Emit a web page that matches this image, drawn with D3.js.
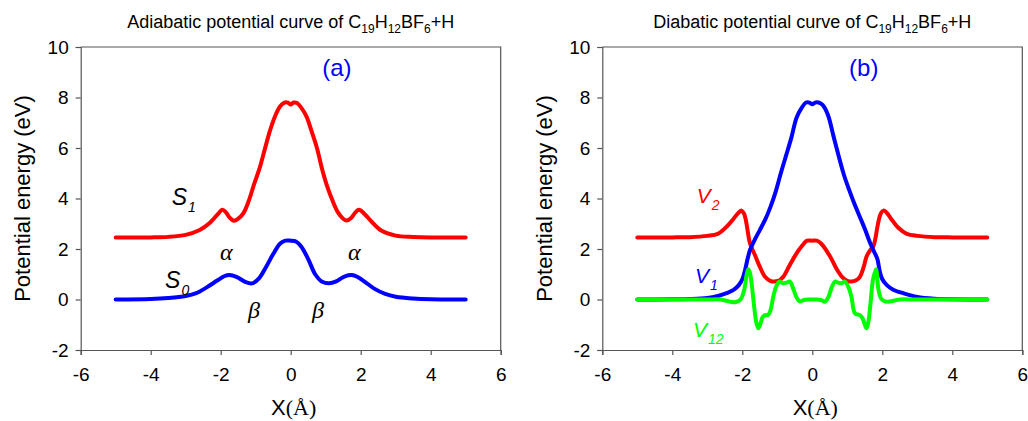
<!DOCTYPE html>
<html>
<head>
<meta charset="utf-8">
<script src="https://cdn.jsdelivr.net/npm/d3@7"></script>
<style>
body { margin: 0; background: #fff; }
svg { display: block; }
</style>
</head>
<body>
<svg width="1028" height="421"></svg>
<script>
// tick values shared by both panels
var xTicks = [-6, -4, -2, 0, 2, 4, 6];
var yTicks = [-2, 0, 2, 4, 6, 8, 10];

// panel (a): adiabatic curves
var s1X = [-5, -4, -3.5, -3, -2.6, -2.3, -2.1, -1.95, -1.85, -1.75, -1.62, -1.5, -1.35, -1.2, -1.05, -0.9, -0.75, -0.6, -0.45, -0.3, -0.18, -0.08, 0, 0.08, 0.18, 0.3, 0.45, 0.6, 0.75, 0.9, 1.05, 1.2, 1.35, 1.5, 1.6, 1.72, 1.85, 1.95, 2.1, 2.3, 2.6, 3, 3.5, 4, 5];
var s1Y = [2.46, 2.46, 2.48, 2.56, 2.75, 3.05, 3.35, 3.55, 3.45, 3.25, 3.12, 3.2, 3.42, 3.9, 4.55, 5.15, 5.9, 6.65, 7.25, 7.65, 7.8, 7.8, 7.72, 7.8, 7.78, 7.6, 7.25, 6.65, 6.0, 5.15, 4.45, 3.9, 3.45, 3.2, 3.13, 3.22, 3.45, 3.55, 3.4, 3.1, 2.72, 2.53, 2.48, 2.46, 2.46];

var s0X = [-5, -4, -3.5, -3, -2.7, -2.4, -2.1, -1.9, -1.75, -1.55, -1.3, -1.1, -0.9, -0.7, -0.5, -0.3, -0.15, 0, 0.15, 0.3, 0.5, 0.7, 0.9, 1.1, 1.3, 1.55, 1.75, 1.9, 2.1, 2.4, 2.7, 3, 3.5, 4, 5];
var s0Y = [0, 0.02, 0.06, 0.14, 0.25, 0.48, 0.75, 0.92, 0.97, 0.9, 0.7, 0.64, 0.85, 1.3, 1.8, 2.22, 2.33, 2.33, 2.3, 2.1, 1.6, 1.0, 0.7, 0.64, 0.72, 0.92, 0.97, 0.9, 0.72, 0.42, 0.22, 0.11, 0.04, 0.01, 0];

// panel (b): diabatic curves
var v1X = [-5, -4, -3.5, -3, -2.7, -2.45, -2.25, -2.1, -2.0, -1.92, -1.85, -1.78, -1.65, -1.5, -1.35, -1.2, -1.05, -0.9, -0.75, -0.6, -0.45, -0.3, -0.18, -0.08, 0, 0.08, 0.18, 0.3, 0.45, 0.6, 0.75, 0.9, 1.05, 1.2, 1.35, 1.5, 1.65, 1.78, 1.86, 1.93, 2.0, 2.13, 2.3, 2.6, 3, 3.5, 4, 5];
var v1Y = [0, 0.01, 0.02, 0.06, 0.14, 0.25, 0.38, 0.57, 0.8, 1.17, 1.6, 1.96, 2.35, 2.75, 3.15, 3.65, 4.25, 5.0, 5.7, 6.4, 7.2, 7.6, 7.8, 7.8, 7.73, 7.8, 7.8, 7.7, 7.3, 6.5, 5.7, 4.95, 4.35, 3.8, 3.3, 2.8, 2.25, 1.85, 1.6, 1.1, 0.8, 0.57, 0.4, 0.25, 0.1, 0.03, 0.01, 0];

var v2X = [-5, -4, -3.5, -3, -2.7, -2.45, -2.25, -2.1, -2.02, -1.95, -1.9, -1.85, -1.78, -1.64, -1.5, -1.35, -1.2, -1.1, -0.95, -0.83, -0.65, -0.45, -0.28, -0.15, 0, 0.13, 0.25, 0.4, 0.55, 0.7, 0.85, 1.0, 1.12, 1.25, 1.36, 1.47, 1.55, 1.65, 1.74, 1.8, 1.85, 1.9, 1.96, 2.03, 2.12, 2.25, 2.45, 2.7, 3, 3.5, 4, 5];
var v2Y = [2.46, 2.46, 2.47, 2.52, 2.6, 2.88, 3.2, 3.45, 3.52, 3.4, 3.15, 2.75, 2.22, 1.76, 1.3, 0.9, 0.74, 0.71, 0.75, 0.9, 1.35, 1.83, 2.15, 2.33, 2.33, 2.33, 2.22, 1.95, 1.6, 1.2, 0.9, 0.74, 0.71, 0.76, 0.9, 1.3, 1.7, 1.95, 2.1, 2.4, 2.8, 3.15, 3.42, 3.52, 3.45, 3.2, 2.85, 2.6, 2.52, 2.47, 2.46, 2.46];

var v12X = [-5, -3, -2.64, -2.45, -2.3, -2.18, -2.05, -1.95, -1.88, -1.83, -1.78, -1.73, -1.66, -1.6, -1.54, -1.48, -1.42, -1.35, -1.27, -1.2, -1.1, -1.02, -0.93, -0.85, -0.75, -0.64, -0.55, -0.45, -0.35, -0.25, -0.1, 0.1, 0.25, 0.36, 0.46, 0.56, 0.65, 0.75, 0.85, 0.93, 1.03, 1.12, 1.22, 1.36, 1.44, 1.5, 1.55, 1.6, 1.66, 1.73, 1.82, 1.89, 1.96, 2.05, 2.17, 2.35, 2.5, 3, 5];
var v12Y = [0, 0, 0, -0.05, -0.1, -0.1, 0.0, 0.35, 0.95, 1.2, 1.05, 0.6, -0.3, -0.9, -1.14, -0.95, -0.7, -0.62, -0.62, -0.45, 0.2, 0.55, 0.71, 0.65, 0.66, 0.71, 0.45, 0.08, -0.08, -0.02, 0, 0, -0.02, -0.09, 0.1, 0.5, 0.71, 0.66, 0.65, 0.71, 0.5, 0.1, -0.55, -0.62, -0.75, -1.0, -1.14, -0.9, -0.2, 0.75, 1.2, 0.4, 0.05, -0.06, -0.09, -0.04, 0, 0, 0];

var svg = d3.select("svg");
var sans = "Arial, 'Liberation Sans', sans-serif";
var serif = "'Times New Roman', 'Liberation Serif', serif";

function drawPanel(left, title, tag, series, labels) {
    var x = d3.scaleLinear().domain([-6, 6]).range([left, left + 420]);
    var y = d3.scaleLinear().domain([-2, 10]).range([350, 47]);

    var g = svg.append("g");

    // frame (top + right)
    g.append("path")
        .attr("d", "M" + x(-6) + "," + y(10) + "H" + x(6) + "V" + y(-2))
        .attr("fill", "none")
        .attr("stroke", "#555")
        .attr("stroke-width", 1.2);

    // plain hyphen for negatives, like the original
    var fmt = function(d) { return String(d); };
    var xa = g.append("g")
        .attr("transform", "translate(0," + y(-2) + ")")
        .call(d3.axisBottom(x).tickValues(xTicks).tickSize(5).tickPadding(13).tickFormat(fmt));
    var ya = g.append("g")
        .attr("transform", "translate(" + x(-6) + ",0)")
        .call(d3.axisLeft(y).tickValues(yTicks).tickSize(5).tickPadding(7).tickFormat(fmt));
    [xa, ya].forEach(function(a) {
        a.selectAll("path, line").attr("stroke", "#555").attr("stroke-width", 1.2);
        a.selectAll("text").attr("font-family", sans).attr("font-size", 19).attr("fill", "#000");
    });

    // title with subscripts: C19 H12 B F6 + H
    var t = g.append("text")
        .attr("x", x(0)).attr("y", 28)
        .attr("text-anchor", "middle")
        .attr("font-family", sans).attr("font-size", 18);
    var parts = [[title + " of C", 0], ["19", 1], ["H", 0], ["12", 1], ["BF", 0], ["6", 1], ["+H", 0]];
    var prevSub = false;
    parts.forEach(function(p) {
        var dy = p[1] ? 5 : (prevSub ? -5 : 0);
        t.append("tspan")
            .attr("dy", dy)
            .attr("font-size", p[1] ? 12 : 18)
            .text(p[0]);
        prevSub = !!p[1];
    });

    // axis titles
    g.append("text")
        .attr("transform", "translate(" + (x(-6) - 58) + "," + y(4) + ") rotate(-90)")
        .attr("text-anchor", "middle")
        .attr("dy", "0.35em")
        .attr("font-family", sans).attr("font-size", 22)
        .text("Potential energy (eV)");
    var xl = g.append("text")
        .attr("x", x(0) + 3).attr("y", 415)
        .attr("text-anchor", "middle")
        .attr("font-family", sans).attr("font-size", 22);
    xl.append("tspan").text("X");
    xl.append("tspan").attr("font-family", serif).text("(Å)");

    // panel tag
    g.append("text")
        .attr("x", x(tag.x)).attr("y", y(tag.y))
        .attr("font-family", sans).attr("font-size", 24)
        .attr("fill", "#0000ff")
        .text(tag.text);

    var line = d3.line()
        .x(function(d) { return x(d[0]); })
        .y(function(d) { return y(d[1]); })
        .curve(d3.curveCatmullRom.alpha(0.5));

    series.forEach(function(s) {
        g.append("path")
            .datum(d3.zip(s.xs, s.ys))
            .attr("fill", "none")
            .attr("stroke", s.color)
            .attr("stroke-width", 4)
            .attr("stroke-linejoin", "round")
            .attr("stroke-linecap", "round")
            .attr("d", line);
    });

    labels.forEach(function(l) {
        var lt = g.append("text")
            .attr("x", x(l.x)).attr("y", y(l.y))
            .attr("font-family", l.greek ? serif : sans)
            .attr("font-style", "italic")
            .attr("font-size", l.size)
            .attr("fill", l.color);
        lt.append("tspan").text(l.main);
        if (l.sub) {
            lt.append("tspan")
                .attr("dx", 1).attr("dy", 7)
                .attr("font-size", 14)
                .text(l.sub);
        }
    });
}

drawPanel(80.7, "Adiabatic potential curve", {text: "(a)", x: 0.9, y: 8.85},
    [{xs: s1X, ys: s1Y, color: "#ff0000"}, {xs: s0X, ys: s0Y, color: "#0000ff"}],
    [{main: "S", sub: "1", x: -3.4, y: 3.74, size: 23, color: "#000"},
     {main: "S", sub: "0", x: -3.59, y: 0.44, size: 23, color: "#000"},
     {main: "α", x: -2.02, y: 1.56, size: 24, color: "#000", greek: true},
     {main: "α", x: 1.64, y: 1.56, size: 24, color: "#000", greek: true},
     {main: "β", x: -1.22, y: -0.73, size: 24, color: "#000", greek: true},
     {main: "β", x: 0.61, y: -0.73, size: 24, color: "#000", greek: true}]);

drawPanel(602.3, "Diabatic potential curve", {text: "(b)", x: 1.05, y: 8.85},
    [{xs: v2X, ys: v2Y, color: "#ff0000"}, {xs: v1X, ys: v1Y, color: "#0000ff"}, {xs: v12X, ys: v12Y, color: "#00ff00"}],
    [{main: "V", sub: "2", x: -3.3, y: 3.82, size: 21, color: "#ff0000"},
     {main: "V", sub: "1", x: -3.35, y: 0.65, size: 21, color: "#0000ff"},
     {main: "V", sub: "12", x: -3.41, y: -1.49, size: 21, color: "#00ff00"}]);
</script>
</body>
</html>
